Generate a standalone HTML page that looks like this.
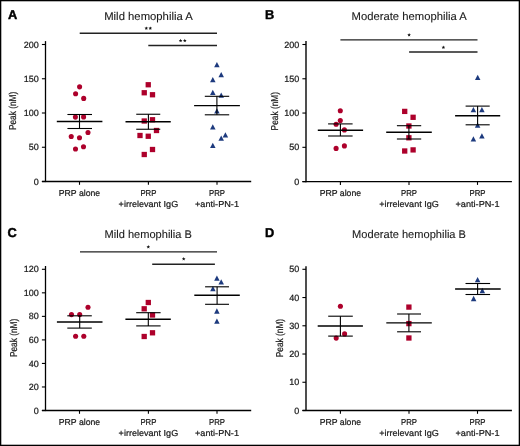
<!DOCTYPE html>
<html><head><meta charset="utf-8"><style>
html,body{margin:0;padding:0;background:#fff;}
body{width:520px;height:446px;overflow:hidden;}
svg{display:block;font-family:"Liberation Sans", sans-serif;will-change:transform;text-rendering:geometricPrecision;}
</style></head><body>
<svg width="520" height="446" viewBox="0 0 520 446">
<rect x="0" y="0" width="520" height="446" fill="#fff"/>
<circle cx="79.60" cy="86.85" r="2.55" fill="#ad002b"/>
<circle cx="75.60" cy="93.80" r="2.55" fill="#ad002b"/>
<circle cx="83.70" cy="98.40" r="2.55" fill="#ad002b"/>
<circle cx="75.40" cy="117.10" r="2.55" fill="#ad002b"/>
<circle cx="83.60" cy="116.90" r="2.55" fill="#ad002b"/>
<circle cx="88.00" cy="132.50" r="2.55" fill="#ad002b"/>
<circle cx="71.25" cy="136.50" r="2.55" fill="#ad002b"/>
<circle cx="79.50" cy="137.75" r="2.55" fill="#ad002b"/>
<circle cx="75.50" cy="149.00" r="2.55" fill="#ad002b"/>
<circle cx="83.50" cy="146.75" r="2.55" fill="#ad002b"/>
<rect x="145.60" y="82.10" width="5.3" height="5.3" fill="#ad002b"/>
<rect x="141.60" y="90.10" width="5.3" height="5.3" fill="#ad002b"/>
<rect x="149.85" y="92.10" width="5.3" height="5.3" fill="#ad002b"/>
<rect x="141.60" y="118.35" width="5.3" height="5.3" fill="#ad002b"/>
<rect x="149.85" y="117.10" width="5.3" height="5.3" fill="#ad002b"/>
<rect x="153.85" y="127.85" width="5.3" height="5.3" fill="#ad002b"/>
<rect x="137.35" y="132.85" width="5.3" height="5.3" fill="#ad002b"/>
<rect x="145.60" y="133.60" width="5.3" height="5.3" fill="#ad002b"/>
<rect x="149.85" y="146.85" width="5.3" height="5.3" fill="#ad002b"/>
<rect x="141.60" y="151.85" width="5.3" height="5.3" fill="#ad002b"/>
<path d="M216.90 61.95L219.65 67.25L214.15 67.25Z" fill="#1d3a7e"/>
<path d="M221.20 72.05L223.95 77.35L218.45 77.35Z" fill="#1d3a7e"/>
<path d="M212.80 77.05L215.55 82.35L210.05 82.35Z" fill="#1d3a7e"/>
<path d="M212.80 89.75L215.55 95.05L210.05 95.05Z" fill="#1d3a7e"/>
<path d="M221.20 92.45L223.95 97.75L218.45 97.75Z" fill="#1d3a7e"/>
<path d="M216.90 108.25L219.65 113.55L214.15 113.55Z" fill="#1d3a7e"/>
<path d="M212.80 124.25L215.55 129.55L210.05 129.55Z" fill="#1d3a7e"/>
<path d="M225.40 132.15L228.15 137.45L222.65 137.45Z" fill="#1d3a7e"/>
<path d="M221.20 135.55L223.95 140.85L218.45 140.85Z" fill="#1d3a7e"/>
<path d="M212.80 142.75L215.55 148.05L210.05 148.05Z" fill="#1d3a7e"/>
<circle cx="340.30" cy="110.70" r="2.55" fill="#ad002b"/>
<circle cx="340.30" cy="120.60" r="2.55" fill="#ad002b"/>
<circle cx="336.10" cy="124.30" r="2.55" fill="#ad002b"/>
<circle cx="344.40" cy="129.90" r="2.55" fill="#ad002b"/>
<circle cx="344.40" cy="145.90" r="2.55" fill="#ad002b"/>
<circle cx="336.10" cy="148.40" r="2.55" fill="#ad002b"/>
<rect x="402.05" y="108.75" width="5.3" height="5.3" fill="#ad002b"/>
<rect x="410.45" y="114.65" width="5.3" height="5.3" fill="#ad002b"/>
<rect x="406.25" y="123.35" width="5.3" height="5.3" fill="#ad002b"/>
<rect x="406.25" y="135.15" width="5.3" height="5.3" fill="#ad002b"/>
<rect x="410.45" y="147.25" width="5.3" height="5.3" fill="#ad002b"/>
<rect x="402.05" y="148.35" width="5.3" height="5.3" fill="#ad002b"/>
<path d="M477.70 74.65L480.45 79.95L474.95 79.95Z" fill="#1d3a7e"/>
<path d="M473.40 106.95L476.15 112.25L470.65 112.25Z" fill="#1d3a7e"/>
<path d="M481.90 106.95L484.65 112.25L479.15 112.25Z" fill="#1d3a7e"/>
<path d="M477.60 122.45L480.35 127.75L474.85 127.75Z" fill="#1d3a7e"/>
<path d="M481.90 133.25L484.65 138.55L479.15 138.55Z" fill="#1d3a7e"/>
<path d="M473.40 136.15L476.15 141.45L470.65 141.45Z" fill="#1d3a7e"/>
<circle cx="88.00" cy="307.20" r="2.55" fill="#ad002b"/>
<circle cx="71.50" cy="314.60" r="2.55" fill="#ad002b"/>
<circle cx="79.70" cy="314.60" r="2.55" fill="#ad002b"/>
<circle cx="75.60" cy="336.20" r="2.55" fill="#ad002b"/>
<circle cx="83.80" cy="336.20" r="2.55" fill="#ad002b"/>
<rect x="145.65" y="299.85" width="5.3" height="5.3" fill="#ad002b"/>
<rect x="141.55" y="306.15" width="5.3" height="5.3" fill="#ad002b"/>
<rect x="149.85" y="312.35" width="5.3" height="5.3" fill="#ad002b"/>
<rect x="149.85" y="330.15" width="5.3" height="5.3" fill="#ad002b"/>
<rect x="141.55" y="333.85" width="5.3" height="5.3" fill="#ad002b"/>
<path d="M216.90 275.45L219.65 280.75L214.15 280.75Z" fill="#1d3a7e"/>
<path d="M221.20 279.15L223.95 284.45L218.45 284.45Z" fill="#1d3a7e"/>
<path d="M212.90 285.95L215.65 291.25L210.15 291.25Z" fill="#1d3a7e"/>
<path d="M216.90 308.35L219.65 313.65L214.15 313.65Z" fill="#1d3a7e"/>
<path d="M216.90 318.45L219.65 323.75L214.15 323.75Z" fill="#1d3a7e"/>
<circle cx="340.40" cy="306.20" r="2.55" fill="#ad002b"/>
<circle cx="344.60" cy="333.90" r="2.55" fill="#ad002b"/>
<circle cx="336.20" cy="338.10" r="2.55" fill="#ad002b"/>
<rect x="406.25" y="304.45" width="5.3" height="5.3" fill="#ad002b"/>
<rect x="406.25" y="320.95" width="5.3" height="5.3" fill="#ad002b"/>
<rect x="406.25" y="335.35" width="5.3" height="5.3" fill="#ad002b"/>
<path d="M477.60 277.05L480.35 282.35L474.85 282.35Z" fill="#1d3a7e"/>
<path d="M482.30 287.85L485.05 293.15L479.55 293.15Z" fill="#1d3a7e"/>
<path d="M473.60 295.85L476.35 301.15L470.85 301.15Z" fill="#1d3a7e"/>
<line x1="45.50" y1="41.10" x2="45.50" y2="182.10" stroke="#000" stroke-width="1.3"/>
<line x1="41.90" y1="44.50" x2="45.50" y2="44.50" stroke="#000" stroke-width="1.1"/>
<line x1="41.90" y1="78.75" x2="45.50" y2="78.75" stroke="#000" stroke-width="1.1"/>
<line x1="41.90" y1="113.00" x2="45.50" y2="113.00" stroke="#000" stroke-width="1.1"/>
<line x1="41.90" y1="147.25" x2="45.50" y2="147.25" stroke="#000" stroke-width="1.1"/>
<line x1="41.90" y1="181.50" x2="45.50" y2="181.50" stroke="#000" stroke-width="1.1"/>
<line x1="41.90" y1="181.50" x2="251.20" y2="181.50" stroke="#000" stroke-width="1.3"/>
<line x1="79.50" y1="181.50" x2="79.50" y2="184.80" stroke="#000" stroke-width="1.1"/>
<line x1="148.40" y1="181.50" x2="148.40" y2="184.80" stroke="#000" stroke-width="1.1"/>
<line x1="217.00" y1="181.50" x2="217.00" y2="184.80" stroke="#000" stroke-width="1.1"/>
<line x1="79.50" y1="114.50" x2="79.50" y2="128.50" stroke="#000" stroke-width="1.1"/>
<line x1="67.40" y1="114.50" x2="92.00" y2="114.50" stroke="#000" stroke-width="1.1"/>
<line x1="67.40" y1="128.50" x2="92.00" y2="128.50" stroke="#000" stroke-width="1.1"/>
<line x1="56.80" y1="121.50" x2="102.40" y2="121.50" stroke="#000" stroke-width="1.4"/>
<line x1="148.40" y1="114.25" x2="148.40" y2="129.25" stroke="#000" stroke-width="1.1"/>
<line x1="136.25" y1="114.25" x2="160.25" y2="114.25" stroke="#000" stroke-width="1.1"/>
<line x1="136.25" y1="129.25" x2="160.25" y2="129.25" stroke="#000" stroke-width="1.1"/>
<line x1="125.50" y1="121.75" x2="170.75" y2="121.75" stroke="#000" stroke-width="1.4"/>
<line x1="216.90" y1="96.30" x2="216.90" y2="114.80" stroke="#000" stroke-width="1.1"/>
<line x1="204.80" y1="96.30" x2="229.20" y2="96.30" stroke="#000" stroke-width="1.1"/>
<line x1="204.80" y1="114.80" x2="229.20" y2="114.80" stroke="#000" stroke-width="1.1"/>
<line x1="194.10" y1="105.60" x2="239.90" y2="105.60" stroke="#000" stroke-width="1.4"/>
<line x1="79.70" y1="33.20" x2="217.00" y2="33.20" stroke="#222" stroke-width="1.4"/>
<line x1="148.30" y1="45.50" x2="217.00" y2="45.50" stroke="#222" stroke-width="1.4"/>
<line x1="306.00" y1="41.10" x2="306.00" y2="182.20" stroke="#222" stroke-width="1.6"/>
<line x1="302.40" y1="44.50" x2="306.00" y2="44.50" stroke="#000" stroke-width="1.1"/>
<line x1="302.40" y1="78.77" x2="306.00" y2="78.77" stroke="#000" stroke-width="1.1"/>
<line x1="302.40" y1="113.05" x2="306.00" y2="113.05" stroke="#000" stroke-width="1.1"/>
<line x1="302.40" y1="147.32" x2="306.00" y2="147.32" stroke="#000" stroke-width="1.1"/>
<line x1="302.40" y1="181.60" x2="306.00" y2="181.60" stroke="#000" stroke-width="1.1"/>
<line x1="302.40" y1="181.60" x2="511.90" y2="181.60" stroke="#000" stroke-width="1.3"/>
<line x1="340.40" y1="181.60" x2="340.40" y2="184.90" stroke="#000" stroke-width="1.1"/>
<line x1="409.00" y1="181.60" x2="409.00" y2="184.90" stroke="#000" stroke-width="1.1"/>
<line x1="477.50" y1="181.60" x2="477.50" y2="184.90" stroke="#000" stroke-width="1.1"/>
<line x1="340.40" y1="123.90" x2="340.40" y2="136.00" stroke="#000" stroke-width="1.1"/>
<line x1="328.10" y1="123.90" x2="352.60" y2="123.90" stroke="#000" stroke-width="1.1"/>
<line x1="328.10" y1="136.00" x2="352.60" y2="136.00" stroke="#000" stroke-width="1.1"/>
<line x1="317.80" y1="130.30" x2="363.10" y2="130.30" stroke="#000" stroke-width="1.4"/>
<line x1="408.90" y1="125.70" x2="408.90" y2="139.00" stroke="#000" stroke-width="1.1"/>
<line x1="396.90" y1="125.70" x2="421.20" y2="125.70" stroke="#000" stroke-width="1.1"/>
<line x1="396.90" y1="139.00" x2="421.20" y2="139.00" stroke="#000" stroke-width="1.1"/>
<line x1="386.20" y1="132.30" x2="431.80" y2="132.30" stroke="#000" stroke-width="1.4"/>
<line x1="477.60" y1="106.10" x2="477.60" y2="124.80" stroke="#000" stroke-width="1.1"/>
<line x1="465.60" y1="106.10" x2="489.70" y2="106.10" stroke="#000" stroke-width="1.1"/>
<line x1="465.60" y1="124.80" x2="489.70" y2="124.80" stroke="#000" stroke-width="1.1"/>
<line x1="455.10" y1="115.70" x2="500.20" y2="115.70" stroke="#000" stroke-width="1.4"/>
<line x1="340.40" y1="39.90" x2="477.50" y2="39.90" stroke="#222" stroke-width="1.4"/>
<line x1="409.10" y1="52.00" x2="477.50" y2="52.00" stroke="#222" stroke-width="1.4"/>
<line x1="45.50" y1="266.00" x2="45.50" y2="411.10" stroke="#000" stroke-width="1.3"/>
<line x1="41.90" y1="269.30" x2="45.50" y2="269.30" stroke="#000" stroke-width="1.1"/>
<line x1="41.90" y1="292.83" x2="45.50" y2="292.83" stroke="#000" stroke-width="1.1"/>
<line x1="41.90" y1="316.37" x2="45.50" y2="316.37" stroke="#000" stroke-width="1.1"/>
<line x1="41.90" y1="339.90" x2="45.50" y2="339.90" stroke="#000" stroke-width="1.1"/>
<line x1="41.90" y1="363.43" x2="45.50" y2="363.43" stroke="#000" stroke-width="1.1"/>
<line x1="41.90" y1="386.97" x2="45.50" y2="386.97" stroke="#000" stroke-width="1.1"/>
<line x1="41.90" y1="410.50" x2="45.50" y2="410.50" stroke="#000" stroke-width="1.1"/>
<line x1="41.90" y1="410.50" x2="251.20" y2="410.50" stroke="#000" stroke-width="1.3"/>
<line x1="79.50" y1="410.50" x2="79.50" y2="413.80" stroke="#000" stroke-width="1.1"/>
<line x1="148.40" y1="410.50" x2="148.40" y2="413.80" stroke="#000" stroke-width="1.1"/>
<line x1="217.00" y1="410.50" x2="217.00" y2="413.80" stroke="#000" stroke-width="1.1"/>
<line x1="79.70" y1="315.80" x2="79.70" y2="328.10" stroke="#000" stroke-width="1.1"/>
<line x1="67.30" y1="315.80" x2="91.80" y2="315.80" stroke="#000" stroke-width="1.1"/>
<line x1="67.30" y1="328.10" x2="91.80" y2="328.10" stroke="#000" stroke-width="1.1"/>
<line x1="56.90" y1="322.00" x2="102.50" y2="322.00" stroke="#000" stroke-width="1.4"/>
<line x1="148.30" y1="312.70" x2="148.30" y2="325.90" stroke="#000" stroke-width="1.1"/>
<line x1="136.20" y1="312.70" x2="160.60" y2="312.70" stroke="#000" stroke-width="1.1"/>
<line x1="136.20" y1="325.90" x2="160.60" y2="325.90" stroke="#000" stroke-width="1.1"/>
<line x1="125.40" y1="319.30" x2="170.80" y2="319.30" stroke="#000" stroke-width="1.4"/>
<line x1="217.10" y1="286.80" x2="217.10" y2="304.30" stroke="#000" stroke-width="1.1"/>
<line x1="205.10" y1="286.80" x2="229.00" y2="286.80" stroke="#000" stroke-width="1.1"/>
<line x1="205.10" y1="304.30" x2="229.00" y2="304.30" stroke="#000" stroke-width="1.1"/>
<line x1="194.30" y1="295.30" x2="239.80" y2="295.30" stroke="#000" stroke-width="1.4"/>
<line x1="80.00" y1="251.90" x2="217.00" y2="251.90" stroke="#222" stroke-width="1.4"/>
<line x1="152.20" y1="264.20" x2="214.90" y2="264.20" stroke="#222" stroke-width="1.4"/>
<line x1="306.00" y1="266.20" x2="306.00" y2="411.10" stroke="#222" stroke-width="1.6"/>
<line x1="302.40" y1="269.30" x2="306.00" y2="269.30" stroke="#000" stroke-width="1.1"/>
<line x1="302.40" y1="297.54" x2="306.00" y2="297.54" stroke="#000" stroke-width="1.1"/>
<line x1="302.40" y1="325.78" x2="306.00" y2="325.78" stroke="#000" stroke-width="1.1"/>
<line x1="302.40" y1="354.02" x2="306.00" y2="354.02" stroke="#000" stroke-width="1.1"/>
<line x1="302.40" y1="382.26" x2="306.00" y2="382.26" stroke="#000" stroke-width="1.1"/>
<line x1="302.40" y1="410.50" x2="306.00" y2="410.50" stroke="#000" stroke-width="1.1"/>
<line x1="302.40" y1="410.50" x2="511.90" y2="410.50" stroke="#000" stroke-width="1.3"/>
<line x1="340.40" y1="410.50" x2="340.40" y2="413.80" stroke="#000" stroke-width="1.1"/>
<line x1="409.00" y1="410.50" x2="409.00" y2="413.80" stroke="#000" stroke-width="1.1"/>
<line x1="477.50" y1="410.50" x2="477.50" y2="413.80" stroke="#000" stroke-width="1.1"/>
<line x1="340.40" y1="316.20" x2="340.40" y2="336.10" stroke="#000" stroke-width="1.1"/>
<line x1="328.20" y1="316.20" x2="352.80" y2="316.20" stroke="#000" stroke-width="1.1"/>
<line x1="328.20" y1="336.10" x2="352.80" y2="336.10" stroke="#000" stroke-width="1.1"/>
<line x1="317.70" y1="326.00" x2="362.90" y2="326.00" stroke="#000" stroke-width="1.4"/>
<line x1="408.90" y1="314.00" x2="408.90" y2="331.80" stroke="#000" stroke-width="1.1"/>
<line x1="397.10" y1="314.00" x2="421.00" y2="314.00" stroke="#000" stroke-width="1.1"/>
<line x1="397.10" y1="331.80" x2="421.00" y2="331.80" stroke="#000" stroke-width="1.1"/>
<line x1="386.30" y1="322.90" x2="431.80" y2="322.90" stroke="#000" stroke-width="1.4"/>
<line x1="477.60" y1="283.50" x2="477.60" y2="294.50" stroke="#000" stroke-width="1.1"/>
<line x1="465.50" y1="283.50" x2="490.10" y2="283.50" stroke="#000" stroke-width="1.1"/>
<line x1="465.50" y1="294.50" x2="490.10" y2="294.50" stroke="#000" stroke-width="1.1"/>
<line x1="455.10" y1="289.00" x2="500.70" y2="289.00" stroke="#000" stroke-width="1.4"/>
<text x="8.00" y="19.40" font-size="12.8" text-anchor="start" font-weight="bold" fill="#000" stroke="#000" stroke-width="0.45">A</text>
<text x="148.50" y="19.60" font-size="11.2" text-anchor="middle" font-weight="normal" fill="#1a1a1a" textLength="88.6" lengthAdjust="spacingAndGlyphs" stroke="#1a1a1a" stroke-width="0.1">Mild hemophilia A</text>
<text x="38.70" y="47.60" font-size="9.0" text-anchor="end" font-weight="normal" fill="#1a1a1a" stroke="#1a1a1a" stroke-width="0.22">200</text>
<text x="38.70" y="81.85" font-size="9.0" text-anchor="end" font-weight="normal" fill="#1a1a1a" stroke="#1a1a1a" stroke-width="0.22">150</text>
<text x="38.70" y="116.10" font-size="9.0" text-anchor="end" font-weight="normal" fill="#1a1a1a" stroke="#1a1a1a" stroke-width="0.22">100</text>
<text x="38.70" y="150.35" font-size="9.0" text-anchor="end" font-weight="normal" fill="#1a1a1a" stroke="#1a1a1a" stroke-width="0.22">50</text>
<text x="38.70" y="184.60" font-size="9.0" text-anchor="end" font-weight="normal" fill="#1a1a1a" stroke="#1a1a1a" stroke-width="0.22">0</text>
<text x="79.50" y="196.10" font-size="8.7" text-anchor="middle" font-weight="normal" fill="#1a1a1a" textLength="41.4" lengthAdjust="spacingAndGlyphs" stroke="#1a1a1a" stroke-width="0.22">PRP alone</text>
<text x="148.40" y="195.90" font-size="8.7" text-anchor="middle" font-weight="normal" fill="#1a1a1a" textLength="16.0" lengthAdjust="spacingAndGlyphs" stroke="#1a1a1a" stroke-width="0.22">PRP</text>
<text x="148.40" y="206.60" font-size="8.7" text-anchor="middle" font-weight="normal" fill="#1a1a1a" textLength="59.6" lengthAdjust="spacingAndGlyphs" stroke="#1a1a1a" stroke-width="0.22">+irrelevant IgG</text>
<text x="217.00" y="195.90" font-size="8.7" text-anchor="middle" font-weight="normal" fill="#1a1a1a" textLength="16.0" lengthAdjust="spacingAndGlyphs" stroke="#1a1a1a" stroke-width="0.22">PRP</text>
<text x="217.00" y="206.60" font-size="8.7" text-anchor="middle" font-weight="normal" fill="#1a1a1a" textLength="44.0" lengthAdjust="spacingAndGlyphs" stroke="#1a1a1a" stroke-width="0.22">+anti-PN-1</text>
<text x="0" y="0" font-size="10" text-anchor="middle" fill="#1a1a1a" textLength="38.4" lengthAdjust="spacingAndGlyphs" stroke="#1a1a1a" stroke-width="0.22" transform="translate(16.4,110.9) rotate(-90)">Peak (nM)</text>
<polygon points="146.30,26.40 146.80,27.61 148.11,27.71 147.11,28.56 147.42,29.84 146.30,29.15 145.18,29.84 145.49,28.56 144.49,27.71 145.80,27.61" fill="#111"/>
<polygon points="150.30,26.40 150.80,27.61 152.11,27.71 151.11,28.56 151.42,29.84 150.30,29.15 149.18,29.84 149.49,28.56 148.49,27.71 149.80,27.61" fill="#111"/>
<polygon points="180.60,38.80 181.10,40.01 182.41,40.11 181.41,40.96 181.72,42.24 180.60,41.55 179.48,42.24 179.79,40.96 178.79,40.11 180.10,40.01" fill="#111"/>
<polygon points="184.80,38.80 185.30,40.01 186.61,40.11 185.61,40.96 185.92,42.24 184.80,41.55 183.68,42.24 183.99,40.96 182.99,40.11 184.30,40.01" fill="#111"/>
<text x="265.00" y="19.00" font-size="12.8" text-anchor="start" font-weight="bold" fill="#000" stroke="#000" stroke-width="0.45">B</text>
<text x="409.15" y="19.70" font-size="11.2" text-anchor="middle" font-weight="normal" fill="#1a1a1a" textLength="115.1" lengthAdjust="spacingAndGlyphs" stroke="#1a1a1a" stroke-width="0.1">Moderate hemophilia A</text>
<text x="299.20" y="47.60" font-size="9.0" text-anchor="end" font-weight="normal" fill="#1a1a1a" stroke="#1a1a1a" stroke-width="0.22">200</text>
<text x="299.20" y="81.87" font-size="9.0" text-anchor="end" font-weight="normal" fill="#1a1a1a" stroke="#1a1a1a" stroke-width="0.22">150</text>
<text x="299.20" y="116.15" font-size="9.0" text-anchor="end" font-weight="normal" fill="#1a1a1a" stroke="#1a1a1a" stroke-width="0.22">100</text>
<text x="299.20" y="150.42" font-size="9.0" text-anchor="end" font-weight="normal" fill="#1a1a1a" stroke="#1a1a1a" stroke-width="0.22">50</text>
<text x="299.20" y="184.70" font-size="9.0" text-anchor="end" font-weight="normal" fill="#1a1a1a" stroke="#1a1a1a" stroke-width="0.22">0</text>
<text x="340.40" y="196.20" font-size="8.7" text-anchor="middle" font-weight="normal" fill="#1a1a1a" textLength="41.4" lengthAdjust="spacingAndGlyphs" stroke="#1a1a1a" stroke-width="0.22">PRP alone</text>
<text x="409.00" y="196.00" font-size="8.7" text-anchor="middle" font-weight="normal" fill="#1a1a1a" textLength="16.0" lengthAdjust="spacingAndGlyphs" stroke="#1a1a1a" stroke-width="0.22">PRP</text>
<text x="409.00" y="206.70" font-size="8.7" text-anchor="middle" font-weight="normal" fill="#1a1a1a" textLength="59.6" lengthAdjust="spacingAndGlyphs" stroke="#1a1a1a" stroke-width="0.22">+irrelevant IgG</text>
<text x="477.50" y="196.00" font-size="8.7" text-anchor="middle" font-weight="normal" fill="#1a1a1a" textLength="16.0" lengthAdjust="spacingAndGlyphs" stroke="#1a1a1a" stroke-width="0.22">PRP</text>
<text x="477.50" y="206.70" font-size="8.7" text-anchor="middle" font-weight="normal" fill="#1a1a1a" textLength="44.0" lengthAdjust="spacingAndGlyphs" stroke="#1a1a1a" stroke-width="0.22">+anti-PN-1</text>
<text x="0" y="0" font-size="10" text-anchor="middle" fill="#1a1a1a" textLength="38.4" lengthAdjust="spacingAndGlyphs" stroke="#1a1a1a" stroke-width="0.22" transform="translate(278.2,111.2) rotate(-90)">Peak (nM)</text>
<polygon points="409.10,33.10 409.60,34.31 410.91,34.41 409.91,35.26 410.22,36.54 409.10,35.85 407.98,36.54 408.29,35.26 407.29,34.41 408.60,34.31" fill="#111"/>
<polygon points="443.40,45.50 443.90,46.71 445.21,46.81 444.21,47.66 444.52,48.94 443.40,48.25 442.28,48.94 442.59,47.66 441.59,46.81 442.90,46.71" fill="#111"/>
<text x="7.50" y="237.10" font-size="12.8" text-anchor="start" font-weight="bold" fill="#000" stroke="#000" stroke-width="0.45">C</text>
<text x="148.25" y="237.80" font-size="11.2" text-anchor="middle" font-weight="normal" fill="#1a1a1a" textLength="87.3" lengthAdjust="spacingAndGlyphs" stroke="#1a1a1a" stroke-width="0.1">Mild hemophilia B</text>
<text x="38.70" y="272.40" font-size="9.0" text-anchor="end" font-weight="normal" fill="#1a1a1a" stroke="#1a1a1a" stroke-width="0.22">120</text>
<text x="38.70" y="295.93" font-size="9.0" text-anchor="end" font-weight="normal" fill="#1a1a1a" stroke="#1a1a1a" stroke-width="0.22">100</text>
<text x="38.70" y="319.47" font-size="9.0" text-anchor="end" font-weight="normal" fill="#1a1a1a" stroke="#1a1a1a" stroke-width="0.22">80</text>
<text x="38.70" y="343.00" font-size="9.0" text-anchor="end" font-weight="normal" fill="#1a1a1a" stroke="#1a1a1a" stroke-width="0.22">60</text>
<text x="38.70" y="366.53" font-size="9.0" text-anchor="end" font-weight="normal" fill="#1a1a1a" stroke="#1a1a1a" stroke-width="0.22">40</text>
<text x="38.70" y="390.07" font-size="9.0" text-anchor="end" font-weight="normal" fill="#1a1a1a" stroke="#1a1a1a" stroke-width="0.22">20</text>
<text x="38.70" y="413.60" font-size="9.0" text-anchor="end" font-weight="normal" fill="#1a1a1a" stroke="#1a1a1a" stroke-width="0.22">0</text>
<text x="79.50" y="425.10" font-size="8.7" text-anchor="middle" font-weight="normal" fill="#1a1a1a" textLength="41.4" lengthAdjust="spacingAndGlyphs" stroke="#1a1a1a" stroke-width="0.22">PRP alone</text>
<text x="148.40" y="424.90" font-size="8.7" text-anchor="middle" font-weight="normal" fill="#1a1a1a" textLength="16.0" lengthAdjust="spacingAndGlyphs" stroke="#1a1a1a" stroke-width="0.22">PRP</text>
<text x="148.40" y="435.60" font-size="8.7" text-anchor="middle" font-weight="normal" fill="#1a1a1a" textLength="59.6" lengthAdjust="spacingAndGlyphs" stroke="#1a1a1a" stroke-width="0.22">+irrelevant IgG</text>
<text x="217.00" y="424.90" font-size="8.7" text-anchor="middle" font-weight="normal" fill="#1a1a1a" textLength="16.0" lengthAdjust="spacingAndGlyphs" stroke="#1a1a1a" stroke-width="0.22">PRP</text>
<text x="217.00" y="435.60" font-size="8.7" text-anchor="middle" font-weight="normal" fill="#1a1a1a" textLength="44.0" lengthAdjust="spacingAndGlyphs" stroke="#1a1a1a" stroke-width="0.22">+anti-PN-1</text>
<text x="0" y="0" font-size="10" text-anchor="middle" fill="#1a1a1a" textLength="38.4" lengthAdjust="spacingAndGlyphs" stroke="#1a1a1a" stroke-width="0.22" transform="translate(16.5,337.9) rotate(-90)">Peak (nM)</text>
<polygon points="148.30,245.10 148.80,246.31 150.11,246.41 149.11,247.26 149.42,248.54 148.30,247.85 147.18,248.54 147.49,247.26 146.49,246.41 147.80,246.31" fill="#111"/>
<polygon points="183.70,257.10 184.20,258.31 185.51,258.41 184.51,259.26 184.82,260.54 183.70,259.85 182.58,260.54 182.89,259.26 181.89,258.41 183.20,258.31" fill="#111"/>
<text x="265.00" y="237.40" font-size="12.8" text-anchor="start" font-weight="bold" fill="#000" stroke="#000" stroke-width="0.45">D</text>
<text x="409.05" y="238.30" font-size="11.2" text-anchor="middle" font-weight="normal" fill="#1a1a1a" textLength="113.9" lengthAdjust="spacingAndGlyphs" stroke="#1a1a1a" stroke-width="0.1">Moderate hemophilia B</text>
<text x="299.20" y="272.40" font-size="9.0" text-anchor="end" font-weight="normal" fill="#1a1a1a" stroke="#1a1a1a" stroke-width="0.22">50</text>
<text x="299.20" y="300.64" font-size="9.0" text-anchor="end" font-weight="normal" fill="#1a1a1a" stroke="#1a1a1a" stroke-width="0.22">40</text>
<text x="299.20" y="328.88" font-size="9.0" text-anchor="end" font-weight="normal" fill="#1a1a1a" stroke="#1a1a1a" stroke-width="0.22">30</text>
<text x="299.20" y="357.12" font-size="9.0" text-anchor="end" font-weight="normal" fill="#1a1a1a" stroke="#1a1a1a" stroke-width="0.22">20</text>
<text x="299.20" y="385.36" font-size="9.0" text-anchor="end" font-weight="normal" fill="#1a1a1a" stroke="#1a1a1a" stroke-width="0.22">10</text>
<text x="299.20" y="413.60" font-size="9.0" text-anchor="end" font-weight="normal" fill="#1a1a1a" stroke="#1a1a1a" stroke-width="0.22">0</text>
<text x="340.40" y="425.10" font-size="8.7" text-anchor="middle" font-weight="normal" fill="#1a1a1a" textLength="41.4" lengthAdjust="spacingAndGlyphs" stroke="#1a1a1a" stroke-width="0.22">PRP alone</text>
<text x="409.00" y="424.90" font-size="8.7" text-anchor="middle" font-weight="normal" fill="#1a1a1a" textLength="16.0" lengthAdjust="spacingAndGlyphs" stroke="#1a1a1a" stroke-width="0.22">PRP</text>
<text x="409.00" y="435.60" font-size="8.7" text-anchor="middle" font-weight="normal" fill="#1a1a1a" textLength="59.6" lengthAdjust="spacingAndGlyphs" stroke="#1a1a1a" stroke-width="0.22">+irrelevant IgG</text>
<text x="477.50" y="424.90" font-size="8.7" text-anchor="middle" font-weight="normal" fill="#1a1a1a" textLength="16.0" lengthAdjust="spacingAndGlyphs" stroke="#1a1a1a" stroke-width="0.22">PRP</text>
<text x="477.50" y="435.60" font-size="8.7" text-anchor="middle" font-weight="normal" fill="#1a1a1a" textLength="44.0" lengthAdjust="spacingAndGlyphs" stroke="#1a1a1a" stroke-width="0.22">+anti-PN-1</text>
<text x="0" y="0" font-size="10" text-anchor="middle" fill="#1a1a1a" textLength="38.4" lengthAdjust="spacingAndGlyphs" stroke="#1a1a1a" stroke-width="0.22" transform="translate(282.8,338.1) rotate(-90)">Peak (nM)</text>
<rect x="0.65" y="0.65" width="518.7" height="444.7" fill="none" stroke="#000" stroke-width="1.3"/>
</svg>
</body></html>
